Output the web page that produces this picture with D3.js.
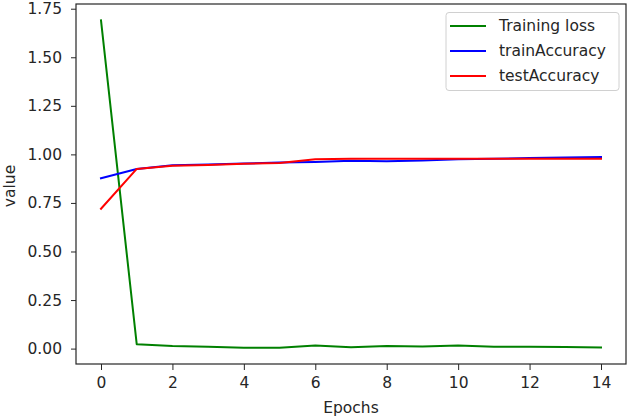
<!DOCTYPE html>
<html>
<head>
<meta charset="utf-8">
<script src="https://cdn.jsdelivr.net/npm/d3@7"></script>
<style>
  html, body { margin: 0; padding: 0; background: #fff; }
  svg { display: block; }
  text { font-family: "DejaVu Sans", sans-serif; fill: #262626; }
</style>
</head>
<body>
<svg id="chart" width="630" height="418"></svg>
<script>
const epochs = [0,1,2,3,4,5,6,7,8,9,10,11,12,13,14];
const trainingLoss = [1.69, 0.023, 0.014, 0.010, 0.005, 0.005, 0.016, 0.007, 0.014, 0.011, 0.016, 0.009, 0.009, 0.008, 0.006];
const trainAccuracy = [0.877, 0.925, 0.944, 0.948, 0.953, 0.958, 0.961, 0.967, 0.965, 0.969, 0.975, 0.978, 0.981, 0.984, 0.987];
const testAccuracy = [0.72, 0.925, 0.942, 0.945, 0.952, 0.956, 0.975, 0.978, 0.977, 0.977, 0.977, 0.977, 0.977, 0.978, 0.978];
const xTicks = [0,2,4,6,8,10,12,14];
const yTicks = [0,0.25,0.5,0.75,1.0,1.25,1.5,1.75];
const seriesNames = ["Training loss", "trainAccuracy", "testAccuracy"];
const seriesColors = ["#008000", "#0000ff", "#ff0000"];

const series = [trainingLoss, trainAccuracy, testAccuracy];

const svg = d3.select("#chart");
const mLeft = 76, mRight = 626, mTop = 4, mBottom = 364;
const fs = "15.5px";

const xPad = 14 * 0.05;
const x = d3.scaleLinear().domain([0 - xPad, 14 + xPad]).range([mLeft, mRight]);
const allVals = series.flat();
const yMin = d3.min(allVals), yMax = d3.max(allVals);
const yPad = (yMax - yMin) * 0.05;
const y = d3.scaleLinear().domain([yMin - yPad, yMax + yPad]).range([mBottom, mTop]);

const xAxis = d3.axisBottom(x).tickValues(xTicks).tickFormat(d3.format("d")).tickSizeOuter(0).tickSize(6).tickPadding(7);
const yAxis = d3.axisLeft(y).tickValues(yTicks).tickFormat(d3.format(".2f")).tickSizeOuter(0).tickSize(5).tickPadding(9);

const gx = svg.append("g").attr("transform", `translate(0,${mBottom})`).call(xAxis);
const gy = svg.append("g").attr("transform", `translate(${mLeft},0)`).call(yAxis);
[gx, gy].forEach(g => {
  g.select(".domain").remove();
  g.selectAll(".tick line").attr("stroke", "#262626").attr("stroke-width", 1);
  g.selectAll(".tick text").style("font-size", fs).style("font-family", "DejaVu Sans, sans-serif").attr("fill", "#262626");
});

const line = d3.line().x((d, i) => x(epochs[i])).y(d => y(d));
series.forEach((s, k) => {
  svg.append("path")
    .datum(s)
    .attr("fill", "none")
    .attr("stroke", seriesColors[k])
    .attr("stroke-width", 2)
    .attr("stroke-linejoin", "round")
    .attr("stroke-linecap", "square")
    .attr("d", line);
});

svg.append("rect")
  .attr("x", mLeft).attr("y", mTop)
  .attr("width", mRight - mLeft).attr("height", mBottom - mTop)
  .attr("fill", "none").attr("stroke", "#262626").attr("stroke-width", 1.2);

svg.append("text").attr("x", (mLeft + mRight) / 2).attr("y", 413)
  .attr("text-anchor", "middle").style("font-size", fs).text("Epochs");
svg.append("text").attr("transform", `translate(15,${(mTop + mBottom) / 2 + 2}) rotate(-90)`)
  .attr("text-anchor", "middle").style("font-size", fs).text("value");

const lg = svg.append("g");
lg.append("rect").attr("x", 446).attr("y", 12.5).attr("width", 173).attr("height", 78)
  .attr("rx", 3).attr("fill", "#fff").attr("fill-opacity", 0.8)
  .attr("stroke", "#d0d0d0").attr("stroke-width", 1);
seriesNames.forEach((n, k) => {
  const yy = 26 + k * 25;
  lg.append("line").attr("x1", 450).attr("x2", 486).attr("y1", yy).attr("y2", yy)
    .attr("stroke", seriesColors[k]).attr("stroke-width", 2);
  lg.append("text").attr("x", 499).attr("y", yy).attr("dy", "0.35em")
    .style("font-size", fs).text(n);
});
</script>
</body>
</html>
